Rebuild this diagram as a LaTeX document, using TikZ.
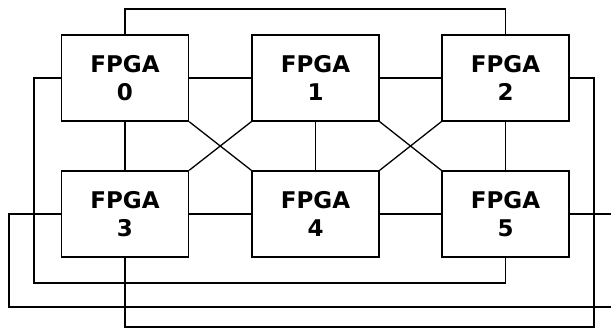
\documentclass[tikz,border=0pt]{standalone}
\usepackage{fontspec}
\setmainfont{DejaVu Sans}
\begin{document}
\begin{tikzpicture}[x=1pt,y=-1pt,
  fpga/.style={draw, line width=1.5pt, minimum width=127pt, minimum height=86pt,
    inner sep=0pt, align=center, font=\fontsize{23}{28}\selectfont\bfseries},
  wire/.style={line width=1.3pt}]
\useasboundingbox (0,0) rectangle (611,329);
\node[fpga] (f0) at (125,78) {FPGA\\0};
\node[fpga] (f1) at (315.5,78) {FPGA\\1};
\node[fpga] (f2) at (505.5,78) {FPGA\\2};
\node[fpga] (f3) at (125,214) {FPGA\\3};
\node[fpga] (f4) at (315.5,214) {FPGA\\4};
\node[fpga] (f5) at (505.5,214) {FPGA\\5};
\coordinate (ytop) at (0,9);
\coordinate (c0) at (34,283);
\coordinate (c2) at (594,327);
\coordinate (c3) at (9,307);
\coordinate (edgeA) at (611,307);
\coordinate (edgeB) at (611,214);
% neighbours
\draw[wire] (f0) -- (f1);
\draw[wire] (f1) -- (f2);
\draw[wire] (f3) -- (f4);
\draw[wire] (f4) -- (f5);
\draw[wire] (f0) -- (f3);
\draw[wire] (f1) -- (f4);
\draw[wire] (f2) -- (f5);
% diagonals
\draw[wire] (f0.south east) -- (f4.north west);
\draw[wire] (f1.south west) -- (f3.north east);
\draw[wire] (f1.south east) -- (f5.north west);
\draw[wire] (f2.south west) -- (f4.north east);
% wrap-around
\draw[wire] (f0.north) -- (f0.north |- ytop) -| (f2.north);
\draw[wire] (f0.west) -| (c0) -| (f5.south);
\draw[wire] (f2.east) -| (c2) -| (f3.south);
\draw[wire] (f3.west) -| (c3) -- (edgeA);
\draw[wire] (f5.east) -- (edgeB);
\end{tikzpicture}
\end{document}
